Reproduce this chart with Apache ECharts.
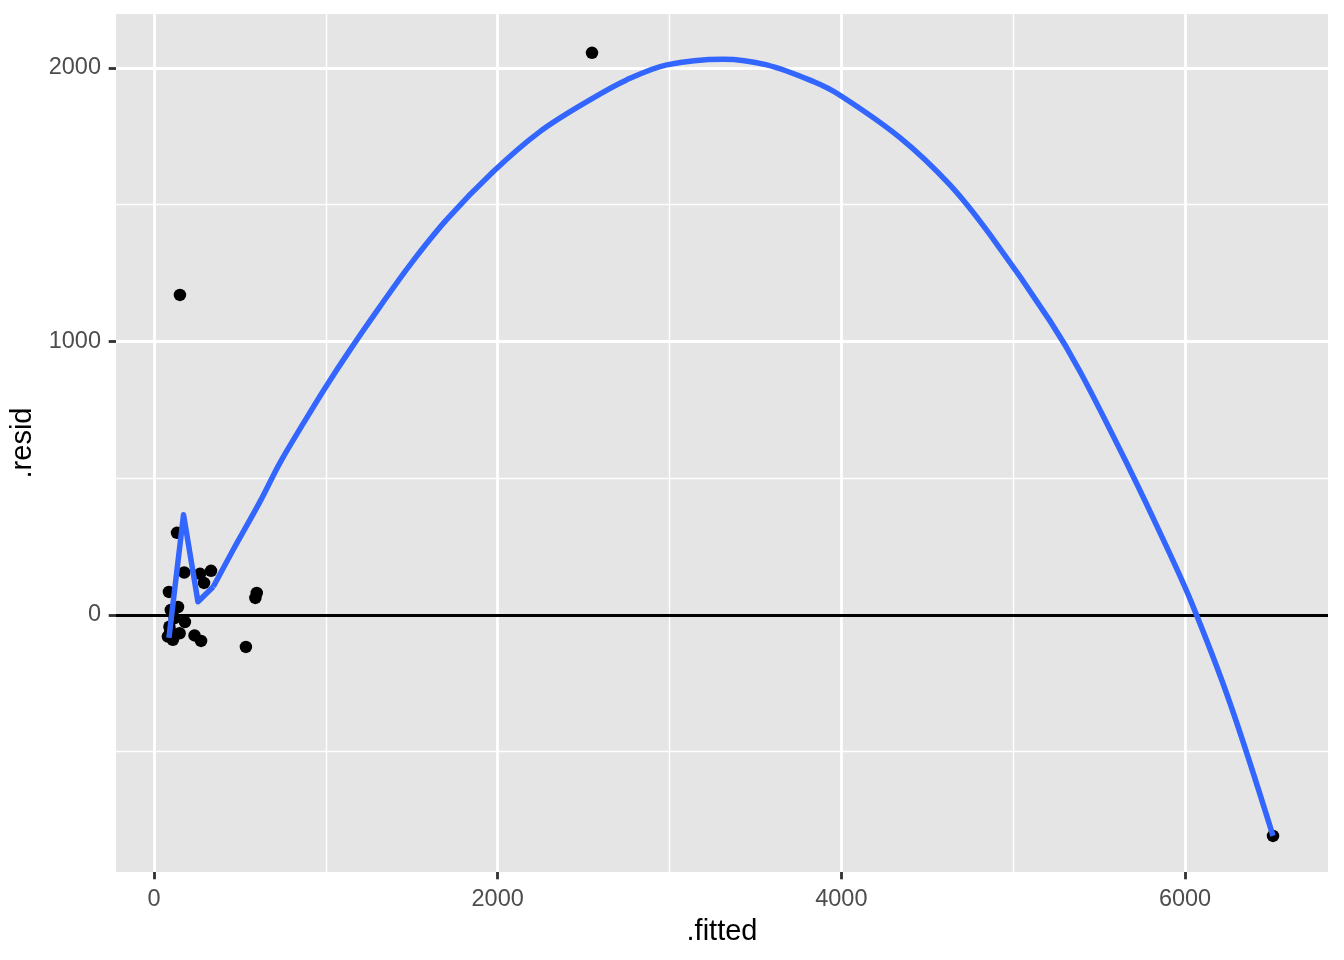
<!DOCTYPE html>
<html>
<head>
<meta charset="utf-8">
<script src="https://cdn.jsdelivr.net/npm/echarts@6/dist/echarts.min.js"></script>
<style>
html,body{margin:0;padding:0;background:#ffffff;}
#chart{width:1344px;height:960px;}
</style>
</head>
<body>
<div id="chart"></div>
<script>
// Observed points (.fitted, .resid)
const fittedVals = [2549, 151, 6512, 134, 176, 268, 291, 332, 87, 590, 598, 140, 98, 120, 180, 90, 81, 110, 149, 236, 274, 535, 95];
const residVals  = [2055, 1170, -808, 300, 155, 150, 117, 161, 84, 62, 80, 29, 18, -12, -26, -43, -79, -91, -67, -75, -95, -117, -60];

// Smoother curve (sharp start, then smooth arc)
const smoothStartX = [87, 172, 256, 345];
const smoothStartY = [-84, 366, 48, 103];
const smoothArcX = [345, 461, 617, 733, 869, 995, 1141, 1315, 1490, 1703, 1975, 2246, 2537, 2750, 2984, 3313, 3566, 3837, 3992, 4341, 4632, 4865, 5214, 5389, 5680, 5874, 6039, 6262, 6512];
const smoothArcY = [103, 238, 414, 556, 700, 829, 969, 1127, 1280, 1445, 1621, 1767, 1883, 1956, 2011, 2032, 2011, 1950, 1900, 1745, 1572, 1390, 1075, 890, 530, 274, 43, -323, -808];

// Axis breaks
const xMajor = [0, 2000, 4000, 6000];
const xMinor = [1000, 3000, 5000];
const yMajor = [0, 1000, 2000];
const yMinor = [-500, 500, 1500];
const xRange = [-221, 6832];
const yRange = [-940, 2197];

const pts = fittedVals.map((f, i) => [f, residVals[i]]);
const curveA = smoothStartX.map((x, i) => [x, smoothStartY[i]]);
const curveB = smoothArcX.map((x, i) => [x, smoothArcY[i]]);

const gridLines = [];
xMajor.forEach(v => gridLines.push({xAxis: v, lineStyle: {color: '#ffffff', width: 2.84, type: 'solid'}}));
xMinor.forEach(v => gridLines.push({xAxis: v, lineStyle: {color: '#ffffff', width: 1.42, type: 'solid'}}));
yMajor.forEach(v => gridLines.push({yAxis: v, lineStyle: {color: '#ffffff', width: 2.84, type: 'solid'}}));
yMinor.forEach(v => gridLines.push({yAxis: v, lineStyle: {color: '#ffffff', width: 1.42, type: 'solid'}}));

const font = '"Liberation Sans", Arial, Helvetica, sans-serif';
const plainNum = v => String(v);

const lineStyleBlue = {color: '#3366FF', width: 5.5, cap: 'butt', join: 'round'};

const chart = echarts.init(document.getElementById('chart'), null, {renderer: 'canvas'});
chart.setOption({
  animation: false,
  backgroundColor: '#ffffff',
  grid: {
    left: 116, top: 14, right: 16, bottom: 88,
    containLabel: false, outerBoundsMode: 'none',
    show: true, backgroundColor: '#E5E5E5', borderWidth: 0
  },
  xAxis: {
    type: 'value', min: xRange[0], max: xRange[1],
    name: '.fitted', nameLocation: 'middle', nameGap: 45,
    nameTextStyle: {fontFamily: font, fontSize: 29, color: '#000000', lineHeight: 29},
    axisLine: {show: true, onZero: false, lineStyle: {color: 'rgba(0,0,0,0)', width: 0}},
    axisTick: {show: true, length: 7.3, customValues: xMajor, lineStyle: {color: '#333333', width: 2.84}},
    axisLabel: {customValues: xMajor, formatter: plainNum, margin: 16, fontFamily: font, fontSize: 23.5, color: '#4D4D4D'},
    splitLine: {show: false}
  },
  yAxis: {
    type: 'value', min: yRange[0], max: yRange[1],
    name: '.resid', nameLocation: 'middle', nameGap: 64, nameRotate: 90,
    nameTextStyle: {fontFamily: font, fontSize: 29, color: '#000000', lineHeight: 29},
    axisLine: {show: true, onZero: false, lineStyle: {color: 'rgba(0,0,0,0)', width: 0}},
    axisTick: {show: true, length: 7.3, customValues: yMajor, lineStyle: {color: '#333333', width: 2.84}},
    axisLabel: {customValues: yMajor, formatter: plainNum, margin: 15, fontFamily: font, fontSize: 23.5, color: '#4D4D4D'},
    splitLine: {show: false}
  },
  series: [
    {
      type: 'line', data: [], silent: true, z: 1,
      markLine: {silent: true, z: 1, symbol: ['none', 'none'], label: {show: false}, data: gridLines, animation: false}
    },
    {
      type: 'line', data: [], silent: true, z: 2,
      markLine: {silent: true, z: 2, symbol: ['none', 'none'], label: {show: false},
        data: [{yAxis: 0, lineStyle: {color: '#000000', width: 2.84, type: 'solid'}}], animation: false}
    },
    {
      type: 'scatter', data: pts, symbol: 'circle', symbolSize: 12.5, z: 3,
      itemStyle: {color: '#000000', opacity: 1}, silent: true
    },
    {
      type: 'line', data: curveA, showSymbol: false, symbol: 'none', smooth: false, z: 4,
      lineStyle: lineStyleBlue, silent: true
    },
    {
      type: 'line', data: curveB, showSymbol: false, symbol: 'none', smooth: 0.35, z: 4,
      lineStyle: lineStyleBlue, silent: true
    }
  ]
});
</script>
</body>
</html>
